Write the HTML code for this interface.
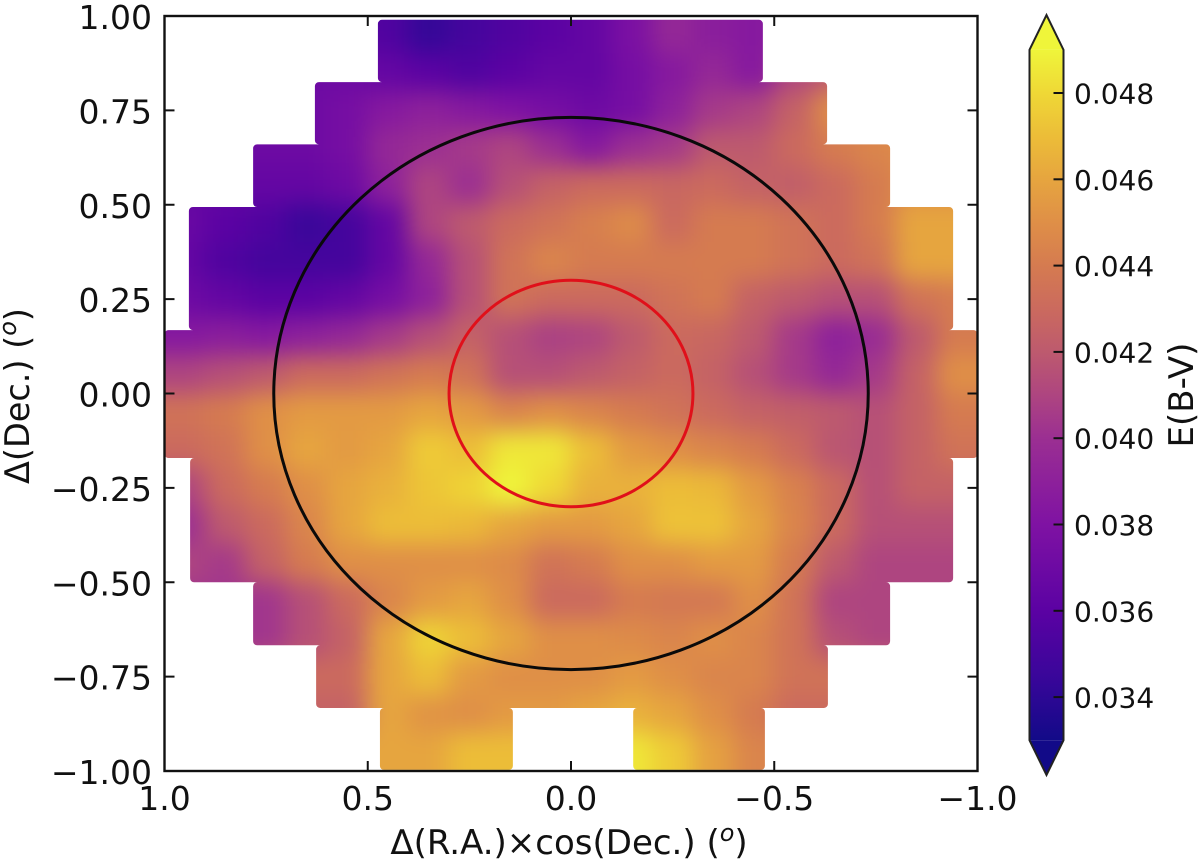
<!DOCTYPE html>
<html lang="en">
<head>
<meta charset="utf-8">
<title>E(B-V) reddening map</title>
<style>
html,body{margin:0;padding:0;background:#fff;}
svg{display:block;}
text{font-family:"DejaVu Sans","Liberation Sans",sans-serif;fill:#111;}
</style>
</head>
<body>
<svg id="chart" xmlns="http://www.w3.org/2000/svg" width="1200" height="867" viewBox="0 0 1200 867">
  <defs>
    <filter id="smooth" filterUnits="userSpaceOnUse" x="-150" y="-150" width="1500" height="1167" color-interpolation-filters="sRGB">
      <feGaussianBlur stdDeviation="12"/>
    </filter>
    <clipPath id="footprint"></clipPath>
    <linearGradient id="cbar-gradient" x1="0" y1="1" x2="0" y2="0"></linearGradient>
  </defs>
  <g id="map-clip" clip-path="url(#footprint)">
    <g id="cells" filter="url(#smooth)"></g>
  </g>
  <g id="circles"></g>
  <rect x="164.5" y="16" width="813" height="755" fill="none" stroke="#111" stroke-width="2.4"/>
  <g id="axis-ticks"></g>
  <g id="cbar"></g>
  <text x="569" y="854" text-anchor="middle" font-size="34">Δ(R.A.)×cos(Dec.) (<tspan font-style="italic" font-size="24" dy="-13">o</tspan><tspan dy="13">)</tspan></text>
  <text transform="translate(29,396) rotate(-90)" text-anchor="middle" font-size="33.5">Δ(Dec.) (<tspan font-style="italic" font-size="24" dy="-13">o</tspan><tspan dy="13">)</tspan></text>
  <text transform="translate(1193,395) rotate(-90)" text-anchor="middle" font-size="34">E(B-V)</text>
</svg>
<script>
// Grid cell centres (degrees)
const raCenters = [0.95,0.85,0.75,0.65,0.55,0.45,0.35,0.25,0.15,0.05,-0.05,-0.15,-0.25,-0.35,-0.45,-0.55,-0.65,-0.75,-0.85,-0.95];
const decCenters = [0.95,0.85,0.75,0.65,0.55,0.45,0.35,0.25,0.15,0.05,-0.05,-0.15,-0.25,-0.35,-0.45,-0.55,-0.65,-0.75,-0.85,-0.95];
const cellSize = 0.1;

// E(B-V) in units of 0.001 mag, one row per declination
const ebvRow00 = [36,36,36,36,36,35.5,34.3,35,35.5,36,36.5,37.8,39.5,38.8,38.5,39,39,39,39,39];
const ebvRow01 = [36,36,36,37,37,36.5,36,35.5,36,36.5,36.5,37.5,38.5,39.5,38.5,41,42,42,42,42];
const ebvRow02 = [37,37,37,37,37.5,38.5,39,38.5,38,37.5,37,37.5,39,40.5,41,42.5,45,45,45,45];
const ebvRow03 = [37,37,37,37,37.5,39.5,40,40.5,41,40,38.5,40,40.5,42,42,43,44,44.5,45,45];
const ebvRow04 = [36.5,36.5,36.5,36.5,37,39,41,40,41.5,42.5,43,43,42.8,43,42.5,42.3,43,44,45,45];
const ebvRow05 = [36.8,36,35.5,34.5,35,36.5,41,42,43,43.5,44.2,44.8,43,44,44,43.5,43,44,46,46];
const ebvRow06 = [36.5,35.5,35,35,35,36.5,39.5,41.5,43.5,44.5,44,44,44,44,44,43.5,43,43.5,46,46];
const ebvRow07 = [37,36.5,36,36,36.5,37.5,39,41.5,43.5,43,43,43,43.5,44,42.5,42,41.5,41.5,43.5,44];
const ebvRow08 = [38.5,38.8,38.5,39,39.5,40.5,41.5,42.5,41.5,40.8,41,42,43,42.8,42,40.5,39,39.8,42,44];
const ebvRow09 = [41,41.5,42,43,43,43.5,44,43.5,41.5,41.5,42,42.5,43,42.5,41.5,40.5,39.5,40.5,42.5,45];
const ebvRow10 = [43.5,44,45,45.5,45.5,45.5,46,45.5,44.5,45,44.5,44,43.5,43,42.5,42.3,42,41.5,42.5,44];
const ebvRow11 = [43,43.5,45,46,45.5,46,47.5,47,48.5,48.5,47,45.5,45,44.5,44,43,41.8,41.5,42.5,43.5];
const ebvRow12 = [41,43,44,45,46,46.5,47.3,47.8,49,48,46.5,46.5,47,46.8,45.5,44.3,43,41.5,42.5,42.5];
const ebvRow13 = [40,42,43,44.5,46,47,47,46.8,46,45.5,45.5,46,47.2,47.2,46,44.5,43,41.5,41.5,41.5];
const ebvRow14 = [41,40.5,42.5,44,45,45,45,45,44.8,43.5,44,45,45,45.5,45.5,44,42,41,41,41];
const ebvRow15 = [40.3,40.3,40.3,41.5,43,44.5,45.5,46,45,43,43,44,43.8,43.8,45,43.5,41,41,41,41];
const ebvRow16 = [40.3,40.3,40.3,41.5,42.5,46,47.8,47,46,45,45,44.8,44.5,45,44.5,43.5,41.5,41,41,41];
const ebvRow17 = [43,43,43,43,43,46,47,45.5,45,45,45,45.5,45,44.5,44.5,43.5,43.5,43.5,43.5,43.5];
const ebvRow18 = [42.5,42.5,42.5,42.5,42.5,46,45.2,45,45.5,45.5,46,46.5,46,45,44,43,43,43,43,43];
const ebvRow19 = [46,46,46,46,46,46,46,47,47,47,48.5,48.5,47.5,45.8,44.5,44.5,44.5,44.5,44.5,44.5];
const ebvRows = [ebvRow00,ebvRow01,ebvRow02,ebvRow03,ebvRow04,ebvRow05,ebvRow06,ebvRow07,ebvRow08,ebvRow09,ebvRow10,ebvRow11,ebvRow12,ebvRow13,ebvRow14,ebvRow15,ebvRow16,ebvRow17,ebvRow18,ebvRow19];

// Field footprint bands: dec top, dec bottom, RA left, RA right (degrees)
const footprintBand1 = [0.99,0.825,0.475,-0.472];
const footprintBand2 = [0.825,0.66,0.63,-0.63];
const footprintBand3 = [0.66,0.494,0.782,-0.785];
const footprintBand4 = [0.494,0.168,0.94,-0.94];
const footprintBand5 = [0.168,-0.171,1.0,-1.0];
const footprintBand6 = [-0.171,-0.5,0.937,-0.94];
const footprintBand7 = [-0.5,-0.667,0.782,-0.785];
const footprintBand8 = [-0.667,-0.833,0.627,-0.632];
const footprintBand9 = [-0.833,-0.997,0.47,0.143];
const footprintBand10 = [-0.833,-0.997,-0.153,-0.477];
const footprintBands = [footprintBand1,footprintBand2,footprintBand3,footprintBand4,footprintBand5,footprintBand6,footprintBand7,footprintBand8,footprintBand9,footprintBand10];

// Reference circles, radius in degrees
const outerRadius = 0.73;
const innerRadius = 0.3;

// Axis ticks
const xTickValues = [1.0,0.5,0.0,-0.5,-1.0];
const xTickLabels = ["1.0","0.5","0.0","−0.5","−1.0"];
const yTickValues = [1.0,0.75,0.5,0.25,0.0,-0.25,-0.5,-0.75,-1.0];
const yTickLabels = ["1.00","0.75","0.50","0.25","0.00","−0.25","−0.50","−0.75","−1.00"];
const cbarTickValues = [0.034,0.036,0.038,0.040,0.042,0.044,0.046,0.048];
const cbarTickLabels = ["0.034","0.036","0.038","0.040","0.042","0.044","0.046","0.048"];

// Colour scale
const colorValues = [33,34.5,36,38,40,41,42,43,44,45,46,47,48,49];
const colorHexes = ["#120a88","#3a069a","#5b02a3","#7f12a3","#9b2f92","#ae4580","#bd5a6e","#cb6a5e","#d57b50","#df8f47","#e6a53f","#ecbd38","#efd836","#eff53a"];

const NS = "http://www.w3.org/2000/svg";
const X_ZERO = 571, X_SCALE = 406.5, Y_ZERO = 393.5, Y_SCALE = 377.5;
function xAxis(ra){ return X_ZERO - X_SCALE * ra; }
function yAxis(dec){ return Y_ZERO - Y_SCALE * dec; }
const CB_Y_048 = 93, CB_PER_UNIT = 86.3 / 0.002;
function cbarY(v){ return CB_Y_048 + (0.048 - v) * CB_PER_UNIT; }

function hexRgb(h){ return [parseInt(h.slice(1,3),16),parseInt(h.slice(3,5),16),parseInt(h.slice(5,7),16)]; }
function colorFor(milli){
  if (milli <= colorValues[0]) return colorHexes[0];
  const last = colorValues.length - 1;
  if (milli >= colorValues[last]) return colorHexes[last];
  let i = 0;
  while (milli > colorValues[i+1]) i++;
  const t = (milli - colorValues[i]) / (colorValues[i+1] - colorValues[i]);
  const a = hexRgb(colorHexes[i]), b = hexRgb(colorHexes[i+1]);
  return "rgb(" + [0,1,2].map(function(k){ return Math.round(a[k] + (b[k]-a[k])*t); }).join(",") + ")";
}
function make(tag, attrs, parent){
  const el = document.createElementNS(NS, tag);
  Object.keys(attrs).forEach(function(k){ el.setAttribute(k, attrs[k]); });
  parent.appendChild(el);
  return el;
}

// Footprint clip
const clip = document.getElementById("footprint");
footprintBands.forEach(function(b){
  make("rect", {x:xAxis(b[2]), y:yAxis(b[0]), width:xAxis(b[3])-xAxis(b[2]), height:yAxis(b[1])-yAxis(b[0]), rx:4}, clip);
});

// Heatmap cells
const cellsGroup = document.getElementById("cells");
const halfCell = cellSize / 2;
ebvRows.forEach(function(row, r){
  row.forEach(function(value, c){
    let x0 = xAxis(raCenters[c] + halfCell), x1 = xAxis(raCenters[c] - halfCell);
    let y0 = yAxis(decCenters[r] + halfCell), y1 = yAxis(decCenters[r] - halfCell);
    if (c === 0) x0 -= 90;
    if (c === row.length - 1) x1 += 90;
    if (r === 0) y0 -= 90;
    if (r === ebvRows.length - 1) y1 += 90;
    const cell = make("rect", {x:x0-0.5, y:y0-0.5, width:x1-x0+1, height:y1-y0+1, fill:colorFor(value)}, cellsGroup);
    
    
  });
});

// Circles
const circles = document.getElementById("circles");
const outerCircle = make("ellipse", {cx:xAxis(0), cy:yAxis(0), rx:X_SCALE*outerRadius+0.5, ry:Y_SCALE*outerRadius+0.5, fill:"none", stroke:"#0a0a0a", "stroke-width":3}, circles);


const innerCircle = make("ellipse", {cx:xAxis(0), cy:yAxis(0), rx:X_SCALE*innerRadius, ry:Y_SCALE*innerRadius, fill:"none", stroke:"#e0101a", "stroke-width":3}, circles);



// Axis ticks and labels
const ticks = document.getElementById("axis-ticks");
const TICK = 10, LEFT = 164.5, RIGHT = 977.5, TOP = 16, BOTTOM = 771;
xTickValues.forEach(function(v, i){
  const x = xAxis(v);
  const t1 = make("line", {x1:x, x2:x, y1:BOTTOM, y2:BOTTOM-TICK, stroke:"#111", "stroke-width":2}, ticks);
  
  
  const t2 = make("line", {x1:x, x2:x, y1:TOP, y2:TOP+TICK, stroke:"#111", "stroke-width":2}, ticks);
  
  
  const label = make("text", {x:x, y:810, "text-anchor":"middle", "font-size":33}, ticks);
  
  
  label.textContent = xTickLabels[i];
});
yTickValues.forEach(function(v, i){
  const y = yAxis(v);
  const t1 = make("line", {x1:LEFT, x2:LEFT+TICK, y1:y, y2:y, stroke:"#111", "stroke-width":2}, ticks);
  
  
  const t2 = make("line", {x1:RIGHT, x2:RIGHT-TICK, y1:y, y2:y, stroke:"#111", "stroke-width":2}, ticks);
  
  
  const label = make("text", {x:152, y:y+13, "text-anchor":"end", "font-size":33}, ticks);
  
  
  label.textContent = yTickLabels[i];
});

// Colorbar
const grad = document.getElementById("cbar-gradient");
const cbLow = colorValues[0], cbHigh = colorValues[colorValues.length-1];
colorValues.forEach(function(v, i){
  make("stop", {offset:(v-cbLow)/(cbHigh-cbLow), "stop-color":colorHexes[i]}, grad);
});
const cbar = document.getElementById("cbar");
const cbLeft = 1029.5, cbRight = 1063.5, cbMid = (cbLeft+cbRight)/2;
const cbTop = cbarY(cbHigh/1000), cbBottom = cbarY(cbLow/1000);
const cbBody = make("rect", {x:cbLeft, y:cbTop, width:cbRight-cbLeft, height:cbBottom-cbTop, fill:"url(#cbar-gradient)"}, cbar);


const cbUpper = make("polygon", {points:cbLeft+","+cbTop+" "+cbMid+",15 "+cbRight+","+cbTop, fill:colorHexes[colorHexes.length-1]}, cbar);


const cbLower = make("polygon", {points:cbLeft+","+cbBottom+" "+cbMid+",775 "+cbRight+","+cbBottom, fill:colorHexes[0]}, cbar);


const cbOutline = make("polygon", {points:cbLeft+","+cbTop+" "+cbMid+",15 "+cbRight+","+cbTop+" "+cbRight+","+cbBottom+" "+cbMid+",775 "+cbLeft+","+cbBottom, fill:"none", stroke:"#222", "stroke-width":2}, cbar);


cbarTickValues.forEach(function(v, i){
  const y = cbarY(v);
  const tick = make("line", {x1:cbRight-10, x2:cbRight, y1:y, y2:y, stroke:"#111", "stroke-width":2}, cbar);
  
  
  const label = make("text", {x:1074, y:y+10.5, "font-size":28}, cbar);
  
  
  label.textContent = cbarTickLabels[i];
});
</script>
</body>
</html>
